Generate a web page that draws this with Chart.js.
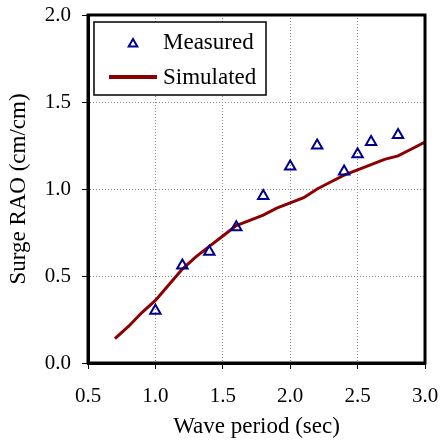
<!DOCTYPE html>
<html>
<head>
<meta charset="utf-8">
<script src="https://cdn.jsdelivr.net/npm/chart.js@4"></script>
<style>
    body { margin: 0; background: #fff; }
    canvas { display: block; }
</style>
</head>
<body>
<canvas id="raoChart" width="442" height="446"></canvas>
<script>
// Measured surge RAO (wave tank)
const measuredPeriod = [1.0, 1.2, 1.4, 1.6, 1.8, 2.0, 2.2, 2.4, 2.5, 2.6, 2.8];
const measuredRao = [0.30, 0.56, 0.64, 0.78, 0.96, 1.13, 1.25, 1.10, 1.20, 1.27, 1.31];

// Simulated surge RAO
const simPeriod = [0.7, 0.8, 0.9, 1.0, 1.1, 1.2, 1.3, 1.4, 1.5, 1.6, 1.7, 1.8, 1.9, 2.0, 2.1, 2.2, 2.3, 2.4, 2.5, 2.6, 2.7, 2.8, 2.9, 3.0];
const simRao = [0.14, 0.21, 0.29, 0.36, 0.45, 0.54, 0.61, 0.67, 0.73, 0.79, 0.82, 0.85, 0.89, 0.92, 0.95, 1.00, 1.04, 1.08, 1.11, 1.14, 1.17, 1.19, 1.23, 1.27];

// Axis ticks
const xTicks = [0.5, 1.0, 1.5, 2.0, 2.5, 3.0];
const yTicks = [0.0, 0.5, 1.0, 1.5, 2.0];

const serif = '"Liberation Serif", "Times New Roman", serif';
const measuredColor = '#00008b';
const simColor = '#8b0000';

// Black frame around the plot area
const framePlugin = {
    id: 'frame',
    afterDatasetsDraw(chart) {
        const { ctx, chartArea: a } = chart;
        ctx.save();
        ctx.strokeStyle = '#000';
        ctx.lineWidth = 3;
        ctx.strokeRect(a.left, a.top, a.right - a.left, a.bottom - a.top);
        ctx.restore();
    }
};

// Boxed legend in the upper left corner of the plot
const boxLegendPlugin = {
    id: 'boxLegend',
    afterDraw(chart) {
        const { ctx, chartArea: a } = chart;
        const x = a.left + 6, y = a.top + 7;
        ctx.save();
        ctx.fillStyle = '#fff';
        ctx.fillRect(x, y, 172, 73);
        ctx.strokeStyle = '#000';
        ctx.lineWidth = 1.5;
        ctx.strokeRect(x, y, 172, 73);

        // triangle marker
        const tx = x + 39, ty = y + 22, r = 5;
        ctx.beginPath();
        ctx.moveTo(tx, ty - r);
        ctx.lineTo(tx + r * 0.866, ty + r / 2);
        ctx.lineTo(tx - r * 0.866, ty + r / 2);
        ctx.closePath();
        ctx.strokeStyle = measuredColor;
        ctx.lineWidth = 2;
        ctx.stroke();

        // line sample
        ctx.beginPath();
        ctx.moveTo(x + 15, y + 55);
        ctx.lineTo(x + 63, y + 55);
        ctx.strokeStyle = simColor;
        ctx.lineWidth = 4;
        ctx.stroke();

        ctx.fillStyle = '#000';
        ctx.font = '23px ' + serif;
        ctx.textBaseline = 'middle';
        ctx.fillText(chart.data.datasets[0].label, x + 69, y + 21);
        ctx.fillText(chart.data.datasets[1].label, x + 69, y + 56);
        ctx.restore();
    }
};

new Chart(document.getElementById('raoChart').getContext('2d'), {
    type: 'scatter',
    data: {
        datasets: [{
            label: 'Measured',
            data: measuredPeriod.map((p, i) => ({ x: p, y: measuredRao[i] })),
            pointStyle: 'triangle',
            radius: 6,
            borderColor: measuredColor,
            backgroundColor: 'rgba(0,0,0,0)',
            borderWidth: 2,
            showLine: false,
            order: 0
        }, {
            label: 'Simulated',
            data: simPeriod.map((p, i) => ({ x: p, y: simRao[i] })),
            showLine: true,
            borderColor: simColor,
            borderWidth: 3,
            pointRadius: 0,
            tension: 0,
            order: 1
        }]
    },
    options: {
        responsive: false,
        animation: false,
        devicePixelRatio: 1,
        layout: { padding: { top: 15, right: 17, left: 0, bottom: 0 } },
        plugins: {
            legend: { display: false },
            tooltip: { enabled: false }
        },
        scales: {
            x: {
                type: 'linear',
                min: 0.5,
                max: 3.0,
                afterBuildTicks: scale => { scale.ticks = xTicks.map(v => ({ value: v })); },
                afterFit: scale => {
                    scale.height = 83;
                    scale.paddingLeft = 0;
                    scale.paddingRight = 0;
                },
                ticks: {
                    callback: v => v.toFixed(1),
                    color: '#000',
                    font: { family: serif, size: 21 },
                    padding: 15,
                    maxRotation: 0
                },
                grid: { color: '#888', tickColor: '#000', tickLength: 6, tickBorderDash: [] },
                border: { color: '#000', width: 3, dash: [1, 2] },
                title: {
                    display: true,
                    text: 'Wave period (sec)',
                    color: '#000',
                    font: { family: serif, size: 23 },
                    padding: { top: 0, bottom: 5 }
                }
            },
            y: {
                type: 'linear',
                min: 0,
                max: 2.0,
                afterBuildTicks: scale => { scale.ticks = yTicks.map(v => ({ value: v })); },
                afterFit: scale => {
                    scale.width = 88;
                    scale.paddingTop = 0;
                    scale.paddingBottom = 0;
                },
                ticks: {
                    callback: v => v.toFixed(1),
                    color: '#000',
                    font: { family: serif, size: 21 },
                    padding: 11
                },
                grid: { color: '#888', tickColor: '#000', tickLength: 6, tickBorderDash: [] },
                border: { color: '#000', width: 3, dash: [1, 2] },
                title: {
                    display: true,
                    text: 'Surge RAO (cm/cm)',
                    color: '#000',
                    font: { family: serif, size: 23 },
                    padding: { top: 5, bottom: 0 }
                }
            }
        }
    },
    plugins: [framePlugin, boxLegendPlugin]
});
</script>
</body>
</html>
